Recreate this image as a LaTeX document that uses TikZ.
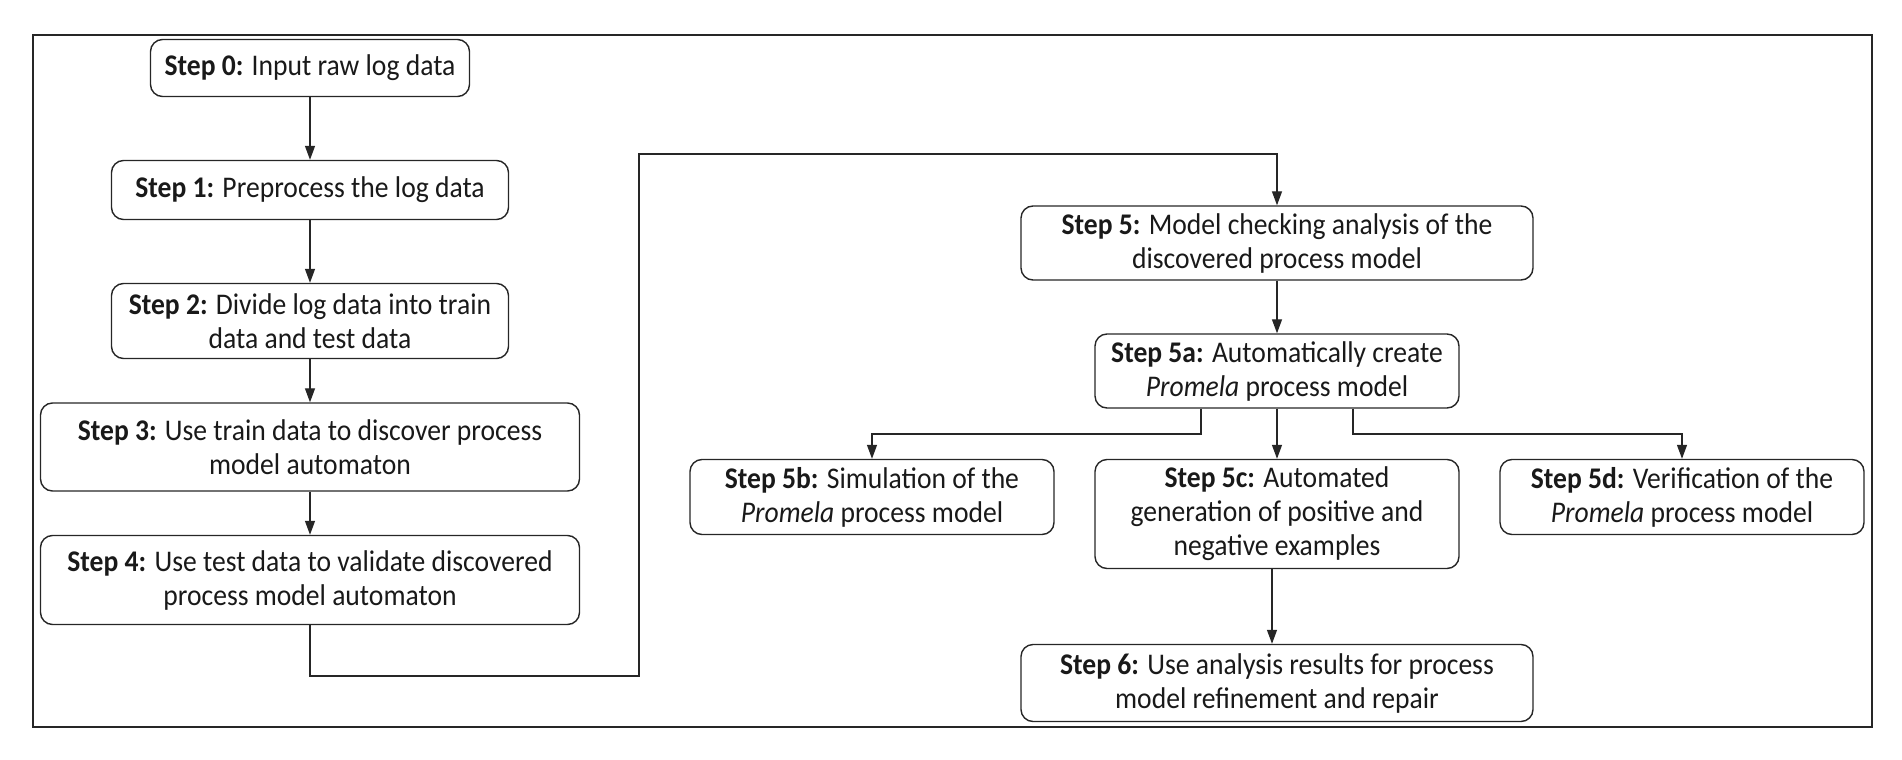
\documentclass[tikz,border=0pt]{standalone}
\usepackage{fontspec}
\setmainfont{Carlito}[FakeStretch=0.92]
\usetikzlibrary{arrows.meta}
\begin{document}
\begin{tikzpicture}[x=0.5pt,y=-0.5pt,
  box/.style={draw=black!85, line width=0.7pt, rounded corners=6pt, align=center,
    inner sep=0pt, font=\fontsize{15}{17}\selectfont, text=black!90},
  arr/.style={draw=black!85, line width=0.65pt, -{Triangle[length=7pt,width=5pt]}},
  ln/.style={draw=black!85, line width=0.65pt}]
\useasboundingbox (0,0) rectangle (1902,760);
\draw[line width=1.2pt, draw=black!85] (33,35) rectangle (1872,727);

\node[box, minimum width=159.5pt, minimum height=28.5pt] (s0) at (310,68) {\textbf{Step 0:} Input raw log data};
\node[box, minimum width=198.5pt, minimum height=29.5pt] (s1) at (310,190) {\textbf{Step 1:} Preprocess the log data};
\node[box, minimum width=198.5pt, minimum height=37.5pt] (s2) at (310,321) {\textbf{Step 2:} Divide log data into train\\data and test data};
\node[box, minimum width=269.5pt, minimum height=44pt] (s3) at (310,447) {\textbf{Step 3:} Use train data to discover process\\model automaton};
\node[box, minimum width=269.5pt, minimum height=44.5pt] (s4) at (310,580) {\textbf{Step 4:} Use test data to validate discovered\\process model automaton};

\node[box, minimum width=256pt, minimum height=37pt] (s5) at (1277,243) {\textbf{Step 5:} Model checking analysis of the\\discovered process model};
\node[box, minimum width=182pt, minimum height=37pt] (s5a) at (1277,371) {\textbf{Step 5a:} Automatically create\\\textit{Promela} process model};
\node[box, minimum width=182pt, minimum height=37.5pt] (s5b) at (872,497) {\textbf{Step 5b:} Simulation of the\\\textit{Promela} process model};
\node[box, minimum width=182pt, minimum height=54.5pt] (s5c) at (1277,514) {\textbf{Step 5c:} Automated\\generation of positive and\\negative examples};
\node[box, minimum width=182pt, minimum height=37.5pt] (s5d) at (1682,497) {\textbf{Step 5d:} Verification of the\\\textit{Promela} process model};
\node[box, minimum width=256pt, minimum height=38.5pt] (s6) at (1277,683) {\textbf{Step 6:} Use analysis results for process\\model refinement and repair};

\draw[arr] (s0) -- (s1);
\draw[arr] (s1) -- (s2);
\draw[arr] (s2) -- (s3);
\draw[arr] (s3) -- (s4);

\coordinate (c1) at (639,676);
\coordinate (c2) at (639,154);
\draw[arr] (s4.south) |- (c1) -- (c2) -| (s5.north);
\draw[arr] (s5) -- (s5a);

\coordinate (bl) at (1201,434);
\coordinate (br) at (1353,434);
\draw[arr] (s5a.south -| bl) -- (bl) -| (s5b.north);
\draw[arr] (s5a) -- (s5c);
\draw[arr] (s5a.south -| br) -- (br) -| (s5d.north);
\draw[arr] ([xshift=-2.5pt]s5c.south) -- ([xshift=-2.5pt]s6.north);
\end{tikzpicture}
\end{document}
